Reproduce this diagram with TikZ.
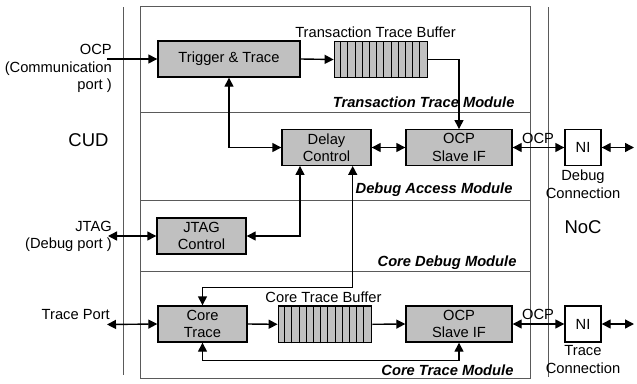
\documentclass[tikz,border=0pt]{standalone}
\usepackage{fontspec}
\setmainfont{Liberation Sans}
\usetikzlibrary{arrows.meta}
\definecolor{boxgray}{RGB}{192,192,192}
\definecolor{linegray}{RGB}{90,90,90}
\newcommand{\fsn}{\fontsize{14.7}{17.5}\selectfont}
\newcommand{\fsb}{\fontsize{18.5}{20}\selectfont}
\begin{document}
\begin{tikzpicture}[x=1pt,y=-1pt,
  font=\fsn,
  blk/.style={draw, line width=1.4pt, fill=boxgray, inner sep=0pt, align=center, minimum height=36pt},
  niblk/.style={draw, line width=1.4pt, fill=white, inner sep=0pt, minimum width=36pt, minimum height=35.5pt},
  bufblk/.style={draw, line width=1.4pt, fill=boxgray, inner sep=0pt, minimum width=93.4pt, minimum height=36.5pt},
  conn/.style={line width=1.4pt},
  arr/.style={conn, -{Triangle[length=9pt,width=9pt]}},
  dblarr/.style={conn, {Triangle[length=9pt,width=9pt]}-{Triangle[length=9pt,width=9pt]}},
  sep/.style={draw=linegray, line width=0.8pt},
  modlabel/.style={font=\fsn\bfseries\itshape, anchor=east},
  txt/.style={inner sep=0pt, align=center}
]
\useasboundingbox (0,0) rectangle (637,383);

% frame and separators
\draw[sep] (140,6) rectangle (530.7,378);
\draw[sep] (140,112) -- (530.7,112);
\draw[sep] (140,200.7) -- (530.7,200.7);
\draw[sep] (140,271.7) -- (530.7,271.7);
\draw[sep] (123,7) -- (123,375);
\draw[sep] (548,7) -- (548,377);

% blocks
\node[blk, minimum width=142pt] (trig) at (229,59) {Trigger \& Trace};
\node[bufblk] (tbuf) at (381,59.5) {};
\node[blk, minimum width=89pt, minimum height=35.5pt] (delay) at (326.5,147.5) {Delay\\Control};
\node[blk, minimum width=106pt, minimum height=35.5pt] (ocpa) at (459,147.5) {OCP\\Slave IF};
\node[niblk] (nia) at (583,147.5) {NI};
\node[blk, minimum width=89pt] (jtag) at (201.5,236) {JTAG\\Control};
\node[blk, minimum width=89pt] (ctrace) at (202.5,324) {Core\\Trace};
\node[bufblk] (cbuf) at (325,324.3) {};
\node[blk, minimum width=106pt] (ocpb) at (459,324) {OCP\\Slave IF};
\node[niblk, minimum height=36pt] (nib) at (583,324) {NI};

% buffer cells
\foreach \i in {1,...,12}{
  \draw[line width=1pt] ([xshift=\i*7.185pt]tbuf.south west) -- ([xshift=\i*7.185pt]tbuf.north west);
  \draw[line width=1pt] ([xshift=\i*7.185pt]cbuf.south west) -- ([xshift=\i*7.185pt]cbuf.north west);
}

% free ends
\coordinate (ocpin) at (107,59);
\coordinate (jtagin) at (108,236);
\coordinate (tpin) at (107,324.5);
\coordinate (naout) at (634,147.5);
\coordinate (nbout) at (634,324);

% connectors
\draw[arr] (ocpin) -- (trig.west);
\draw[arr] (trig.east) -- (tbuf.west);
\draw[arr] (tbuf.east) -| (ocpa.north);
\draw[dblarr] (trig.south) |- (delay.west);
\draw[dblarr] (delay.east) -- (ocpa.west);
\draw[dblarr] (ocpa.east) -- (nia.west);
\draw[dblarr] (nia.east) -- (naout);
\draw[dblarr] (jtagin) -- (jtag.west);
\draw[dblarr] (jtag.east) -| ([xshift=-26.5pt]delay.south);
\draw[dblarr] ([xshift=26.2pt]delay.south) |- ([yshift=18pt]ctrace.north) -- (ctrace.north);
\draw[dblarr] (tpin) -- (ctrace.west);
\draw[arr] (ctrace.east) -- (cbuf.west);
\draw[arr] (cbuf.east) -- (ocpb.west);
\draw[dblarr] (ctrace.south) -- ++(0,18) -| (ocpb.south);
\draw[dblarr] (ocpb.east) -- (nib.west);
\draw[dblarr] (nib.east) -- (nbout);

% labels
\node[txt, anchor=east, align=right] (locp) at (112,68.5) {OCP\\(Communication\\port )};
\node[txt, font=\fsb] (lcud) at (88.5,140) {CUD};
\node[txt, anchor=east, align=right] (ljtag) at (112,236.5) {JTAG\\(Debug port )};
\node[txt, anchor=east] (ltp) at (110,315) {Trace Port};
\node[txt] (ltbuf) at (375.5,32) {Transaction Trace Buffer};
\node[txt] (lcbuf) at (323.5,297.5) {Core Trace Buffer};
\node[modlabel] (m1) at (518,102) {Transaction Trace Module};
\node[modlabel] (m2) at (516,190) {Debug Access Module};
\node[modlabel] (m3) at (520,262.7) {Core Debug Module};
\node[modlabel] (m4) at (517,370) {Core Trace Module};
\node[txt] (locpa) at (538,138) {OCP};
\node[txt] (locpb) at (538,314) {OCP};
\node[txt, font=\fsb] (lnoc) at (583,227) {NoC};
\node[txt] (ldc) at (583,184) {Debug\\Connection};
\node[txt] (ltc) at (583,359.5) {Trace\\Connection};
\end{tikzpicture}
\end{document}
